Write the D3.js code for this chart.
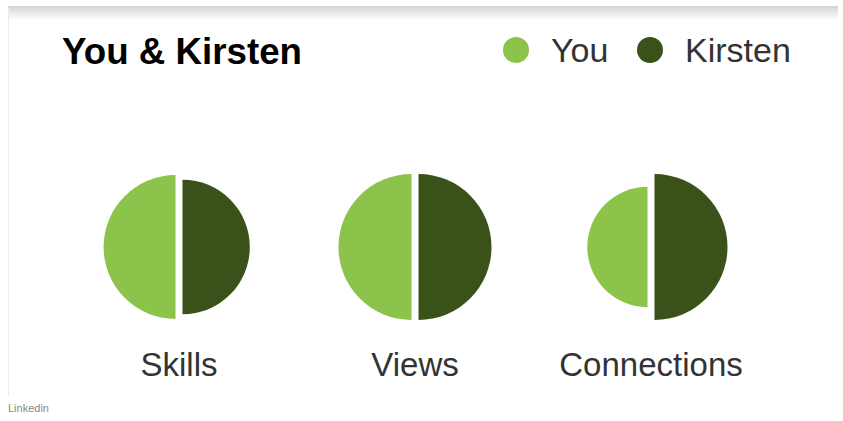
<!DOCTYPE html>
<html>
<head>
<meta charset="utf-8">
<script src="https://cdn.jsdelivr.net/npm/d3@7/dist/d3.min.js"></script>
<style>
html,body{margin:0;padding:0;background:#fff;}
svg{display:block;}
</style>
</head>
<body>
<svg id="chart" width="843" height="421"></svg>
<script>
const categories = ["Skills", "Views", "Connections"];
const seriesNames = ["You", "Kirsten"];
const youValues = [97, 100, 68];
const kirstenValues = [85, 100, 100];
const title = "You & Kirsten";
const source = "Linkedin";

const colors = {You: "#8cc34a", Kirsten: "#3a521a"};

const svg = d3.select("#chart");

// card frame with top shadow
const defs = svg.append("defs");
const g1 = defs.append("linearGradient").attr("id", "shadow").attr("x1", 0).attr("x2", 0).attr("y1", 0).attr("y2", 1);
g1.append("stop").attr("offset", "0%").attr("stop-color", "#d4d4d4");
g1.append("stop").attr("offset", "100%").attr("stop-color", "#ffffff");
svg.append("rect").attr("x", 8).attr("y", 6).attr("width", 830).attr("height", 14).attr("fill", "url(#shadow)");
svg.append("line").attr("x1", 8.5).attr("x2", 8.5).attr("y1", 8).attr("y2", 396)
  .attr("stroke", "#ececec").attr("stroke-width", 1);

// title
svg.append("text").attr("x", 62).attr("y", 64)
  .attr("font-family", "Liberation Sans, Arial, sans-serif")
  .attr("font-weight", "bold").attr("font-size", 36.5).attr("fill", "#000")
  .attr("textLength", 240).attr("lengthAdjust", "spacingAndGlyphs")
  .text(title);

// legend
const legendX = [516, 650];
const legend = svg.selectAll("g.legend").data(seriesNames).join("g").attr("class", "legend")
  .attr("transform", (d, i) => `translate(${legendX[i]},50)`);
legend.append("circle").attr("r", 13).attr("fill", d => colors[d]);
legend.append("text").attr("x", 35).attr("y", 12)
  .attr("font-family", "Liberation Sans, Arial, sans-serif")
  .attr("font-size", 34).attr("fill", "#333").text(d => d);

// scales
const x = d3.scalePoint().domain(categories).range([179, 651]);
const r = d3.scaleSqrt().domain([0, 100]).range([0, 73]);
const cy = 247;
const gap = 3.5;

const data = categories.map((c, i) => ({cat: c, You: youValues[i], Kirsten: kirstenValues[i]}));

const groups = svg.selectAll("g.cat").data(data).join("g").attr("class", "cat")
  .attr("transform", d => `translate(${x(d.cat)},${cy})`);

const arcYou = d3.arc().innerRadius(0).startAngle(Math.PI).endAngle(2 * Math.PI);
const arcK = d3.arc().innerRadius(0).startAngle(0).endAngle(Math.PI);

groups.append("path")
  .attr("transform", `translate(${-gap},0)`)
  .attr("d", d => arcYou.outerRadius(r(d.You))())
  .attr("fill", colors.You);
groups.append("path")
  .attr("transform", `translate(${gap},0)`)
  .attr("d", d => arcK.outerRadius(r(d.Kirsten))())
  .attr("fill", colors.Kirsten);

groups.append("text").attr("x", 0).attr("y", 129)
  .attr("text-anchor", "middle")
  .attr("font-family", "Liberation Sans, Arial, sans-serif")
  .attr("font-size", 33).attr("fill", "#333")
  .text(d => d.cat);

// source
svg.append("text").attr("x", 8).attr("y", 412)
  .attr("font-family", "Liberation Sans, Arial, sans-serif")
  .attr("font-size", 11).attr("fill", "#888").text(source);
</script>
</body>
</html>
